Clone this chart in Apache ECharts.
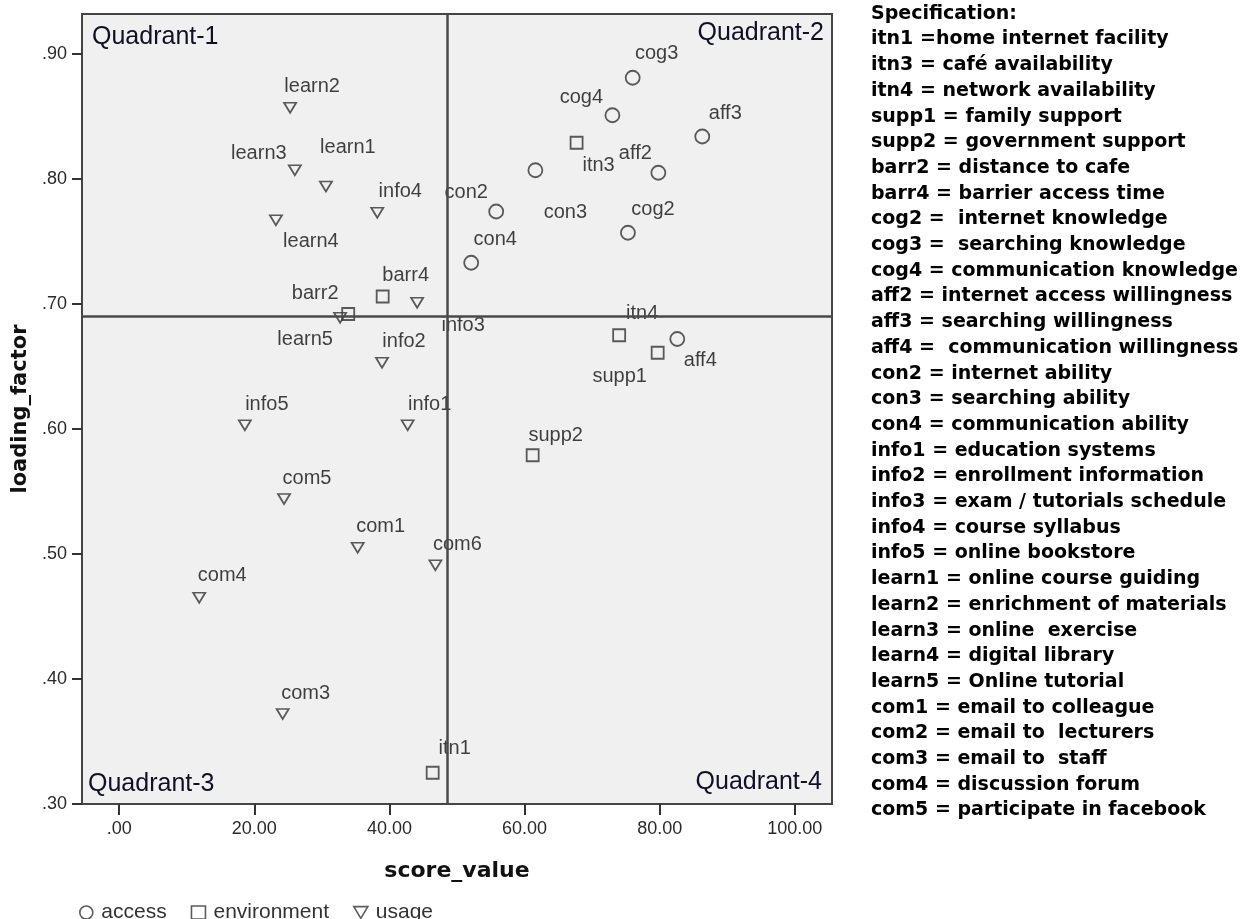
<!DOCTYPE html>
<html>
<head>
<meta charset="utf-8">
<script src="https://cdn.jsdelivr.net/npm/echarts@6/dist/echarts.min.js"></script>
<style>
html,body{margin:0;padding:0;background:#fff;}
#chart{width:1253px;height:919px;}
</style>
</head>
<body>
<div id="chart"></div>
<script>
// ---------- data ----------
const accessNames   = ['cog2','cog3','cog4','aff2','aff3','aff4','con2','con3','con4'];
const accessScore   = [75.3, 76.0, 73.0, 79.8, 86.3, 82.6, 55.8, 61.6, 52.1];
const accessLoading = [0.757,0.881,0.851,0.805,0.834,0.672,0.774,0.807,0.733];

const envNames   = ['itn1','itn3','itn4','supp1','supp2','barr2','barr4'];
const envScore   = [46.4, 67.7, 74.0, 79.7, 61.2, 33.9, 39.0];
const envLoading = [0.325,0.829,0.675,0.661,0.579,0.692,0.706];

const usageNames   = ['info1','info2','info3','info4','info5','learn1','learn2','learn3','learn4','learn5','com1','com3','com4','com5','com6'];
const usageScore   = [42.7, 38.9, 44.1, 38.2, 18.6, 30.6, 25.3, 26.0, 23.2, 32.7, 35.3, 24.2, 11.85, 24.4, 46.8];
const usageLoading = [0.603,0.653,0.701,0.773,0.603,0.794,0.857,0.807,0.767,0.689,0.505,0.372,0.465,0.544,0.491];

const seriesNames = ['access','environment','usage'];
const refScore = 48.5;      // vertical reference line
const refLoading = 0.685;   // horizontal reference line
const xTicks = [0,20,40,60,80,100];
const yTicks = [0.3,0.4,0.5,0.6,0.7,0.8,0.9];
const quadrantNames = ['Quadrant-1','Quadrant-2','Quadrant-3','Quadrant-4'];
const specLines = [
  'Specification:',
  'itn1 =home internet facility',
  'itn3 = café availability',
  'itn4 = network availability',
  'supp1 = family support',
  'supp2 = government support',
  'barr2 = distance to cafe',
  'barr4 = barrier access time',
  'cog2 =  internet knowledge',
  'cog3 =  searching knowledge',
  'cog4 = communication knowledge',
  'aff2 = internet access willingness',
  'aff3 = searching willingness',
  'aff4 =  communication willingness',
  'con2 = internet ability',
  'con3 = searching ability',
  'con4 = communication ability',
  'info1 = education systems',
  'info2 = enrollment information',
  'info3 = exam / tutorials schedule',
  'info4 = course syllabus',
  'info5 = online bookstore',
  'learn1 = online course guiding',
  'learn2 = enrichment of materials',
  'learn3 = online  exercise',
  'learn4 = digital library',
  'learn5 = Online tutorial',
  'com1 = email to colleague',
  'com2 = email to  lecturers',
  'com3 = email to  staff',
  'com4 = discussion forum',
  'com5 = participate in facebook'
];

// ---------- layout / style ----------
const labelOffsets = {
  learn2:[22,-21], learn3:[-36,-17], learn1:[22,-39], learn4:[35,21], info4:[23,-21],
  barr4:[23,-21], barr2:[-33,-21], learn5:[-35,22], info3:[46,23], info2:[22,-21],
  info5:[22,-21], info1:[22,-21], com5:[23,-21], com1:[23,-21], com6:[22,-21],
  com4:[23,-22], com3:[23,-21], itn1:[22,-24],
  cog3:[24,-24], cog4:[-31,-18], aff3:[23,-23], itn3:[22,23], aff2:[-23,-19],
  con2:[-30,-19], con3:[30,42], cog2:[25,-23], con4:[24,-23], itn4:[23,-22],
  supp1:[-38,24], aff4:[23,21], supp2:[23,-20]
};
const G = {left:82, top:14, right:421, bottom:115};
const W = 1253, H = 919;
const strokeColor = '#333333';
const labelFont = {fontFamily:'"Liberation Sans", Arial, sans-serif', fontSize:20, color:'#111'};
const triPath = 'path://M0,0L12,0L6,10Z';

function buildData(names, xs, ys){
  return names.map((n,i)=>({
    name:n, value:[xs[i], ys[i]],
    label:{offset: labelOffsets[n] || [20,-20]}
  }));
}
function makeSeries(name, symbol, size, data, extra){
  return Object.assign({
    name, type:'scatter', symbol, symbolSize:size, data,
    itemStyle:{color:'rgba(0,0,0,0)', borderColor:strokeColor, borderWidth:1.8},
    label:Object.assign({show:true, position:'inside', formatter:p=>p.name}, labelFont),
    emphasis:{disabled:true}, z:3
  }, extra||{});
}

const chart = echarts.init(document.getElementById('chart'), null, {renderer:'canvas'});
const plotW = W - G.left - G.right, plotH = H - G.top - G.bottom;
const qFont = '25px "Liberation Sans", Arial, sans-serif';
const qColor = '#0f0f26';

chart.setOption({
  animation:false,
  backgroundColor:'#ffffff',
  grid:{left:G.left, top:G.top, right:G.right, bottom:G.bottom, show:true,
        backgroundColor:'#f0f0f0', borderColor:'#454545', borderWidth:2, containLabel:false},
  xAxis:{
    type:'value', min:-5.5, max:105.5, position:'bottom',
    name:'score_value', nameLocation:'middle', nameGap:56,
    nameTextStyle:{fontFamily:'"DejaVu Sans", Verdana, sans-serif', fontWeight:'bold', fontSize:22, color:'#111'},
    axisLine:{show:false, onZero:false},
    axisTick:{show:true, customValues:xTicks, length:11, lineStyle:{color:'#333', width:2}},
    axisLabel:{customValues:xTicks, margin:16, fontFamily:'"Liberation Sans", Arial, sans-serif', fontSize:18, color:'#2a2a2a',
               formatter:v=>{const s=v.toFixed(2); return s.startsWith('0')? s.slice(1): s;}},
    splitLine:{show:false}
  },
  yAxis:{
    type:'value', min:0.3, max:0.932, position:'left',
    name:'loading_factor', nameLocation:'middle', nameGap:48, nameRotate:90,
    nameTextStyle:{fontFamily:'"DejaVu Sans", Verdana, sans-serif', fontWeight:'bold', fontSize:21, color:'#111'},
    axisLine:{show:false, onZero:false},
    axisTick:{show:true, customValues:yTicks, length:10, lineStyle:{color:'#333', width:2}},
    axisLabel:{customValues:yTicks, margin:15, fontFamily:'"Liberation Sans", Arial, sans-serif', fontSize:18, color:'#2a2a2a',
               formatter:v=>v.toFixed(2).replace(/^0/,'')},
    splitLine:{show:false}
  },
  legend:{
    left:74, top:897, orient:'horizontal', selectedMode:false,
    itemWidth:14, itemHeight:13, itemGap:24,
    textStyle:{fontFamily:'"Liberation Sans", Arial, sans-serif', fontSize:21, color:'#333', padding:[0,0,0,3]},
    data:[
      {name:'access', icon:'circle', itemStyle:{color:'rgba(0,0,0,0)', borderColor:strokeColor, borderWidth:1.6}},
      {name:'environment', icon:'rect', itemStyle:{color:'rgba(0,0,0,0)', borderColor:strokeColor, borderWidth:1.6}},
      {name:'usage', icon:triPath, itemStyle:{color:'rgba(0,0,0,0)', borderColor:strokeColor, borderWidth:1.6}}
    ]
  },
  series:[
    makeSeries(seriesNames[0], 'circle', 14, buildData(accessNames, accessScore, accessLoading), {
      markLine:{silent:true, symbol:['none','none'], label:{show:false},
        lineStyle:{color:'#4a4a4a', width:2.5, type:'solid'},
        emphasis:{disabled:true},
        data:[{xAxis:refScore},{yAxis:refLoading}]}
    }),
    makeSeries(seriesNames[1], 'rect', 12, buildData(envNames, envScore, envLoading)),
    makeSeries(seriesNames[2], triPath, [12,10], buildData(usageNames, usageScore, usageLoading))
  ],
  graphic:[
    {type:'text', z:10, style:{text:quadrantNames[0], x:G.left+10, y:G.top+23, font:qFont, fill:qColor, align:'left', verticalAlign:'middle'}},
    {type:'text', z:10, style:{text:quadrantNames[1], x:G.left+plotW-8, y:G.top+19, font:qFont, fill:qColor, align:'right', verticalAlign:'middle'}},
    {type:'text', z:10, style:{text:quadrantNames[2], x:G.left+6, y:G.top+plotH-20, font:qFont, fill:qColor, align:'left', verticalAlign:'middle'}},
    {type:'text', z:10, style:{text:quadrantNames[3], x:G.left+plotW-10, y:G.top+plotH-22, font:qFont, fill:qColor, align:'right', verticalAlign:'middle'}},
    {type:'text', z:10, style:{text:specLines.join('\n'), x:871, y:1, font:'bold 19px "DejaVu Sans", Verdana, sans-serif',
      lineHeight:25.7, fill:'#000', align:'left', verticalAlign:'top'}}
  ]
});
</script>
</body>
</html>
